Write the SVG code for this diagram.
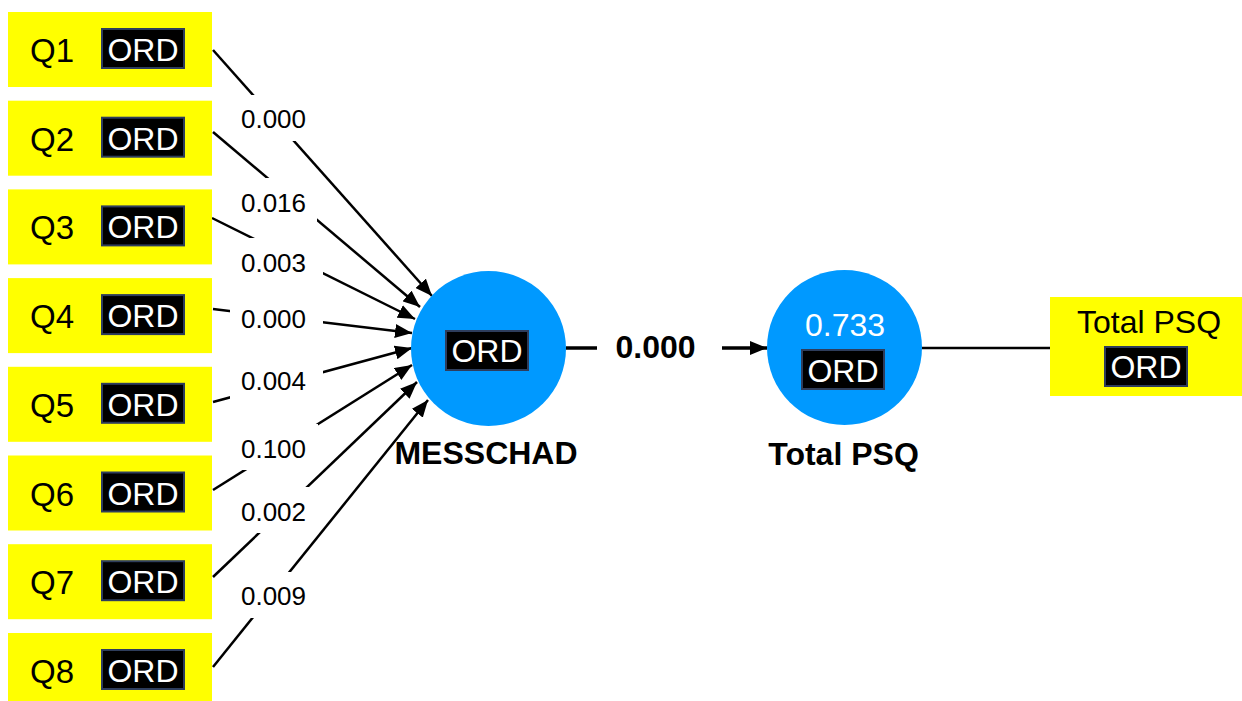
<svg xmlns="http://www.w3.org/2000/svg" width="1242" height="701" viewBox="0 0 1242 701">
<style>
text{font-family:"Liberation Sans",Arial,Helvetica,sans-serif}
.ind{fill:#FFFF00}
.ql{font-size:33px;fill:#000}
.badge{fill:#000;stroke:#2E3D5C;stroke-width:2}
.ord{font-size:32px;fill:#fff;text-anchor:middle}
.lv{fill:#0099FF}
.edge{stroke:#000;stroke-width:2.5;fill:none}
.lbg{fill:#fff}
.el{font-size:26px;fill:#000;text-anchor:middle}
.bl{font-size:32px;font-weight:bold;fill:#000;text-anchor:middle}
</style>
<defs>
<marker id="ah" markerUnits="userSpaceOnUse" markerWidth="17" markerHeight="14" refX="17" refY="7" orient="auto">
<path d="M0,0 L17,7 L0,14 z" fill="#000"/>
</marker>
</defs>
<rect width="1242" height="701" fill="#fff"/>
<g id="connectors">
<line class="edge" x1="213" y1="50" x2="432" y2="296" marker-end="url(#ah)"/>
<line class="edge" x1="213" y1="132" x2="420" y2="307" marker-end="url(#ah)"/>
<line class="edge" x1="212" y1="218" x2="415" y2="319" marker-end="url(#ah)"/>
<line class="edge" x1="213" y1="309" x2="412" y2="333" marker-end="url(#ah)"/>
<line class="edge" x1="213" y1="402" x2="412" y2="348" marker-end="url(#ah)"/>
<line class="edge" x1="213" y1="490" x2="412" y2="365" marker-end="url(#ah)"/>
<line class="edge" x1="213" y1="577" x2="417" y2="382" marker-end="url(#ah)"/>
<line class="edge" x1="213" y1="667" x2="428" y2="400" marker-end="url(#ah)"/>
<line x1="566" y1="348" x2="767" y2="348" stroke="#000" stroke-width="3.5" marker-end="url(#ah)"/>
<line x1="922" y1="348" x2="1050" y2="348" stroke="#000" stroke-width="2.5"/>
<rect class="lbg" x="230" y="95" width="93" height="46"/>
<rect class="lbg" x="230" y="178" width="87" height="46"/>
<rect class="lbg" x="230" y="238" width="93" height="46"/>
<rect class="lbg" x="230" y="296" width="93" height="46"/>
<rect class="lbg" x="230" y="357" width="93" height="46"/>
<rect class="lbg" x="230" y="424" width="88" height="46"/>
<rect class="lbg" x="230" y="487" width="80" height="46"/>
<rect class="lbg" x="230" y="572" width="75" height="46"/>
<rect class="lbg" x="597" y="325" width="125" height="46"/>
<text class="el" x="273.5" y="127.5">0.000</text>
<text class="el" x="273.5" y="211.5">0.016</text>
<text class="el" x="273.5" y="271.5">0.003</text>
<text class="el" x="273.5" y="328">0.000</text>
<text class="el" x="273.5" y="390">0.004</text>
<text class="el" x="273.5" y="458">0.100</text>
<text class="el" x="273.5" y="521">0.002</text>
<text class="el" x="273.5" y="605">0.009</text>
<text class="bl" x="655.5" y="358">0.000</text>
</g>
<g id="Q1"><rect class="ind" x="8" y="12" width="204" height="75"/><text class="ql" x="30" y="62">Q1</text><rect class="badge" x="102" y="29" width="82" height="39"/><text class="ord" x="143" y="61">ORD</text></g>
<g id="Q2"><rect class="ind" x="8" y="100.7" width="204" height="75"/><text class="ql" x="30" y="150.7">Q2</text><rect class="badge" x="102" y="117.7" width="82" height="39"/><text class="ord" x="143" y="149.7">ORD</text></g>
<g id="Q3"><rect class="ind" x="8" y="189.4" width="204" height="75"/><text class="ql" x="30" y="239.4">Q3</text><rect class="badge" x="102" y="206.4" width="82" height="39"/><text class="ord" x="143" y="238.4">ORD</text></g>
<g id="Q4"><rect class="ind" x="8" y="278.1" width="204" height="75"/><text class="ql" x="30" y="328.1">Q4</text><rect class="badge" x="102" y="295.1" width="82" height="39"/><text class="ord" x="143" y="327.1">ORD</text></g>
<g id="Q5"><rect class="ind" x="8" y="366.8" width="204" height="75"/><text class="ql" x="30" y="416.8">Q5</text><rect class="badge" x="102" y="383.8" width="82" height="39"/><text class="ord" x="143" y="415.8">ORD</text></g>
<g id="Q6"><rect class="ind" x="8" y="455.5" width="204" height="75"/><text class="ql" x="30" y="505.5">Q6</text><rect class="badge" x="102" y="472.5" width="82" height="39"/><text class="ord" x="143" y="504.5">ORD</text></g>
<g id="Q7"><rect class="ind" x="8" y="544.2" width="204" height="75"/><text class="ql" x="30" y="594.2">Q7</text><rect class="badge" x="102" y="561.2" width="82" height="39"/><text class="ord" x="143" y="593.2">ORD</text></g>
<g id="Q8"><rect class="ind" x="8" y="633" width="204" height="75"/><text class="ql" x="30" y="683">Q8</text><rect class="badge" x="102" y="650" width="82" height="39"/><text class="ord" x="143" y="682">ORD</text></g>
<g id="MESSCHAD"><circle class="lv" cx="488.5" cy="348.5" r="77.5"/><rect class="badge" x="446" y="331" width="82" height="39"/><text class="ord" x="487" y="362">ORD</text><text class="bl" x="486" y="464">MESSCHAD</text></g>
<g id="TotalPSQ"><circle class="lv" cx="844.5" cy="347.5" r="77.5"/><text x="845" y="336" font-size="32" fill="#fff" text-anchor="middle">0.733</text><rect class="badge" x="802" y="350" width="82" height="39"/><text class="ord" x="843" y="382">ORD</text><text class="bl" x="843.5" y="465">Total PSQ</text></g>
<g id="TotalPSQ_ind"><rect class="ind" x="1050" y="297" width="192" height="99"/><text x="1149" y="333" font-size="32" fill="#000" text-anchor="middle">Total PSQ</text><rect class="badge" x="1105" y="347" width="82" height="39"/><text class="ord" x="1146" y="378">ORD</text></g>
</svg>
